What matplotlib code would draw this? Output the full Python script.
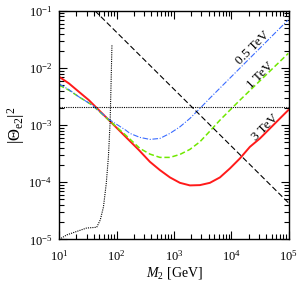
# |Theta_e2|^2 vs M_2 for three scales

import numpy as np
import matplotlib.pyplot as plt

plt.rcParams['font.family'] = 'Liberation Serif'
plt.rcParams['mathtext.fontset'] = 'custom'
plt.rcParams['mathtext.rm'] = 'Liberation Serif'
plt.rcParams['mathtext.it'] = 'Liberation Serif:italic'
plt.rcParams['font.size'] = 9

# values (log10 of mass in GeV, log10 of |Theta|^2)
red_lx = [1.0, 1.169, 1.343, 1.517, 1.692, 1.866, 2.040, 2.214, 2.389, 2.580, 2.754, 2.929,
          3.103, 3.277, 3.451, 3.625, 3.800, 3.974, 4.148, 4.322, 4.497, 4.671, 4.845, 4.990]
red_ly = [-2.155, -2.270, -2.417, -2.563, -2.738, -2.913, -3.087, -3.262, -3.437, -3.642, -3.787, -3.915,
          -4.010, -4.055, -4.050, -4.010, -3.915, -3.758, -3.583, -3.380, -3.233, -3.058, -2.883, -2.738]

green_lx = [1.0, 1.169, 1.343, 1.575, 1.866, 2.157, 2.406, 2.580, 2.754, 2.929, 3.103, 3.277,
            3.451, 3.625, 3.800, 3.974, 4.148, 4.990]
green_ly = [-2.300, -2.388, -2.505, -2.650, -2.913, -3.175, -3.408, -3.507, -3.565, -3.565, -3.513, -3.425,
            -3.292, -3.105, -2.913, -2.738, -2.563, -1.745]

blue_lx = [1.0, 1.169, 1.343, 1.575, 1.866, 2.157, 2.232, 2.406, 2.580, 2.754, 2.929, 3.103,
           3.277, 3.451, 3.625, 4.984]
blue_ly = [-2.280, -2.379, -2.505, -2.650, -2.900, -3.087, -3.145, -3.215, -3.250, -3.233, -3.145, -3.030,
           -2.883, -2.708, -2.528, -1.163]

# dotted experimental bound (GeV, |Theta|^2)
bound_m = [10, 13.6, 20.3, 30, 45, 52, 59, 66, 72, 77, 80, 83]
bound_t = [1.0e-5, 1.2e-5, 1.38e-5, 1.58e-5, 1.63e-5, 2.2e-5, 3.7e-5, 9.5e-5, 2.8e-4, 1.1e-3, 5.2e-3, 2.6e-2]

dash_m = [42, 1e5]
dash_t = [1e-1, 4.3e-5]

hline = 2.1e-3

labels = ['0.5 TeV', '1 TeV', '3 TeV']
label_lx = [4.375, 4.497, 4.584]
label_ly = [-1.653, -2.125, -3.035]

fig = plt.figure(figsize=(2.99, 2.85), dpi=100)
ax = fig.add_axes([0.198, 0.16, 0.768, 0.802])

ax.plot(10**np.array(red_lx), 10**np.array(red_ly), color='#ff1a1a', lw=1.4)
ax.plot(10**np.array(green_lx), 10**np.array(green_ly), color='#70e800', lw=1.1, ls=(0, (3.5, 1.8)))
ax.plot(10**np.array(blue_lx), 10**np.array(blue_ly), color='#3a6cff', lw=0.8, ls=(0, (5, 1.5, 1, 1.5)))
ax.plot(bound_m, bound_t, color='k', lw=0.8, ls=(0, (1, 1)))
ax.plot(dash_m, dash_t, color='k', lw=0.8, ls=(0, (5, 2.5)))
ax.axhline(hline, color='k', lw=0.8, ls=(0, (1, 1)))

for t, lx, ly in zip(labels, label_lx, label_ly):
    ax.text(10**lx, 10**ly, t, rotation=45, ha='center', va='center', fontsize=9.5)

ax.set_xscale('log')
ax.set_yscale('log')
ax.set_xlim(10, 1e5)
ax.set_ylim(1e-5, 1e-1)
ax.tick_params(which='both', direction='in', top=True, right=True)
ax.tick_params(which='major', length=6, width=0.8)
ax.tick_params(axis='x', which='major', pad=7)
ax.tick_params(axis='y', which='major', pad=5)
ax.tick_params(which='minor', length=3.5, width=0.8)
for s in ax.spines.values():
    s.set_linewidth(1.0)

ax.set_xlabel('$M_2$ [GeV]', fontsize=10, labelpad=1)
ax.set_ylabel(r'$|\Theta_{\mathrm{e2}}|^2$', fontsize=12, labelpad=1)

fig.savefig('out.png', dpi=100)
